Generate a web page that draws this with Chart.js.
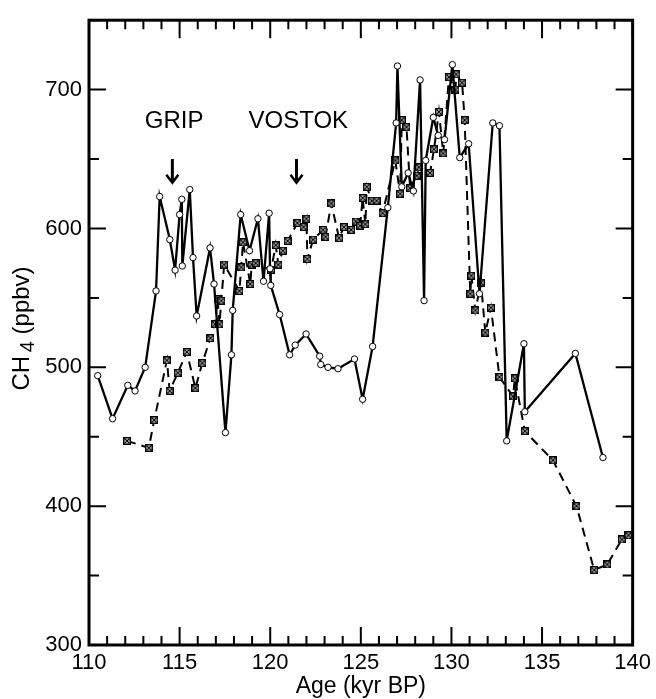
<!DOCTYPE html>
<html>
<head>
<meta charset="utf-8">
<script src="https://cdn.jsdelivr.net/npm/chart.js@4.4.1/dist/chart.umd.min.js"></script>
<style>
  body { margin: 0; background: #fff; }
  #wrap { width: 656px; height: 699px; position: relative; }
</style>
</head>
<body>
<div id="wrap"><canvas id="ch4Chart"></canvas></div>
<script>
// GRIP record (solid line, open circles)
var gripAge = [110.48, 111.3, 112.14, 112.54, 113.1, 113.7, 113.9, 114.46, 114.75, 115.0, 115.12, 115.15, 115.56, 115.74, 115.94, 116.68, 116.9, 117.53, 117.86, 117.93, 118.37, 118.86, 119.32, 119.63, 119.94, 119.99, 120.03, 120.52, 121.07, 121.38, 121.98, 122.73, 122.79, 123.19, 123.74, 124.65, 125.1, 125.65, 126.49, 126.95, 127.02, 127.26, 127.61, 127.9, 128.27, 128.49, 128.58, 129.0, 129.27, 129.62, 130.05, 130.46, 130.95, 131.55, 132.28, 132.65, 133.05, 134.0, 134.05, 136.84, 138.36];
var gripCH4 = [494, 463, 487, 483, 500, 555, 623, 592, 570, 610, 621, 573, 628, 579, 537, 586, 560, 453, 509, 541, 610, 584, 607, 562, 611, 571, 559, 538, 509, 516, 524, 508, 502, 500, 499, 506, 477, 515, 615, 676, 717, 630, 640, 627, 707, 548, 649, 680, 667, 664, 718, 651, 661, 553, 676, 674, 447, 517, 468, 510, 435];

// Vostok record (dashed line, boxed crosses)
var vostokAge = [112.1, 113.3, 113.6, 114.3, 114.45, 114.9, 115.4, 115.87, 116.25, 116.7, 116.95, 117.1, 117.2, 117.3, 117.46, 118.3, 118.4, 118.5, 118.9, 118.98, 119.2, 120.05, 120.3, 120.45, 120.7, 120.96, 121.5, 121.84, 122.0, 122.05, 122.37, 122.92, 123.05, 123.37, 123.8, 124.07, 124.47, 124.72, 124.96, 125.1, 125.25, 125.33, 125.6, 125.87, 126.2, 126.9, 127.17, 127.26, 127.52, 127.72, 128.08, 128.21, 128.82, 129.04, 129.31, 129.55, 129.86, 130.22, 130.27, 130.59, 130.73, 131.04, 131.1, 131.32, 131.63, 131.87, 132.18, 132.65, 133.4, 133.5, 134.05, 135.6, 136.9, 137.88, 138.6, 139.4, 139.77];
var vostokCH4 = [447, 442, 462, 505, 483, 496, 511, 485, 503, 521, 531, 549, 531, 548, 574, 555, 572, 590, 560, 574, 575, 570, 588, 574, 584, 591, 604, 601, 607, 578, 592, 599, 594, 618, 593, 601, 599, 605, 602, 622, 603, 630, 620, 620, 611, 649, 625, 678, 673, 629, 638, 644, 640, 657, 684, 654, 709, 700, 711, 705, 678, 553, 566, 541, 561, 525, 543, 493, 479, 492, 454, 433, 400, 354, 358, 376, 379];

var xTickLabels = [110, 115, 120, 125, 130, 135, 140];
var yTickLabels = [300, 400, 500, 600, 700];

var fontFam = "'Liberation Sans', Arial, Helvetica, sans-serif";

function toPoints(xs, ys) {
    var pts = [];
    for (var i = 0; i < xs.length; ++i) {
        pts.push({ x: xs[i], y: ys[i] });
    }
    return pts;
}

// small square with an x inside, like the Vostok symbols
function boxCross() {
    var c = document.createElement('canvas');
    c.width = 8; c.height = 8;
    var g = c.getContext('2d');
    g.fillStyle = '#fff';
    g.fillRect(0, 0, 8, 8);
    g.strokeStyle = '#000';
    g.lineWidth = 1.5;
    g.strokeRect(0.75, 0.75, 6.5, 6.5);
    g.lineWidth = 1.2;
    g.beginPath();
    g.moveTo(1.5, 1.5); g.lineTo(6.5, 6.5);
    g.moveTo(6.5, 1.5); g.lineTo(1.5, 6.5);
    g.stroke();
    return c;
}

// frame, inside ticks, labels and arrows
var framePlugin = {
    id: 'framePlugin',
    afterDraw: function(chart) {
        var ctx = chart.ctx;
        var a = chart.chartArea;
        var xs = chart.scales.x, ys = chart.scales.y;
        ctx.save();
        ctx.strokeStyle = '#000';
        ctx.lineWidth = 3;
        ctx.strokeRect(a.left, a.top, a.right - a.left, a.bottom - a.top);

        ctx.lineWidth = 2;
        ctx.beginPath();
        for (var v = 110; v <= 140; v++) {
            var px = xs.getPixelForValue(v);
            var len = (v % 5 == 0) ? 18 : 9;
            ctx.moveTo(px, a.bottom); ctx.lineTo(px, a.bottom - len);
            ctx.moveTo(px, a.top); ctx.lineTo(px, a.top + len);
        }
        for (var w = 300; w <= 750; w += 50) {
            var py = ys.getPixelForValue(w);
            var l2 = (w % 100 == 0) ? 17 : 10;
            ctx.moveTo(a.left, py); ctx.lineTo(a.left + l2, py);
            ctx.moveTo(a.right, py); ctx.lineTo(a.right - l2, py);
        }
        ctx.stroke();

        // record labels
        ctx.fillStyle = '#000';
        ctx.font = '24px ' + fontFam;
        ctx.textAlign = 'center';
        ctx.textBaseline = 'middle';
        var labY = ys.getPixelForValue(677);
        ctx.fillText('GRIP', xs.getPixelForValue(114.7), labY);
        ctx.fillText('VOSTOK', xs.getPixelForValue(121.55), labY);

        // arrows
        [114.6, 121.45].forEach(function(age) {
            var ax = xs.getPixelForValue(age);
            var y0 = ys.getPixelForValue(650), y1 = ys.getPixelForValue(633);
            ctx.lineWidth = 3;
            ctx.beginPath();
            ctx.moveTo(ax, y0); ctx.lineTo(ax, y1 - 2);
            ctx.stroke();
            ctx.lineWidth = 2.5;
            ctx.beginPath();
            ctx.moveTo(ax - 6, y1 - 8); ctx.lineTo(ax, y1); ctx.lineTo(ax + 6, y1 - 8);
            ctx.stroke();
        });

        // x axis title
        ctx.font = '23px ' + fontFam;
        ctx.fillText('Age (kyr BP)', (a.left + a.right) / 2, 687);

        // y axis title with subscript
        ctx.translate(22, 327);
        ctx.rotate(-Math.PI / 2);
        ctx.textAlign = 'left';
        ctx.textBaseline = 'middle';
        var t1 = 'CH ', t3 = ' (ppbv)';
        ctx.font = '24px ' + fontFam;
        var w1 = ctx.measureText(t1).width;
        ctx.font = '20px ' + fontFam;
        var w2 = ctx.measureText('4').width;
        ctx.font = '24px ' + fontFam;
        var w3 = ctx.measureText(t3).width;
        var start = -(w1 + w2 + w3) / 2;
        ctx.fillText(t1, start, 0);
        ctx.font = '20px ' + fontFam;
        ctx.fillText('4', start + w1 - 3, 6);
        ctx.font = '24px ' + fontFam;
        ctx.fillText(t3, start + w1 + w2 - 3, 0);
        ctx.restore();
    }
};

var ctx = document.getElementById('ch4Chart').getContext('2d');
var myChart = new Chart(ctx, {
    type: 'line',
    data: {
        datasets: [{
            label: 'GRIP',
            data: toPoints(gripAge, gripCH4),
            borderColor: '#000',
            borderWidth: 2.3,
            pointStyle: 'circle',
            pointRadius: 3.2,
            pointBorderWidth: 1,
            pointBackgroundColor: '#fff',
            pointBorderColor: '#000',
            tension: 0
        }, {
            label: 'Vostok',
            data: toPoints(vostokAge, vostokCH4),
            borderColor: '#000',
            borderWidth: 2,
            borderDash: [9, 6],
            pointStyle: boxCross(),
            pointRadius: 4,
            tension: 0
        }]
    },
    options: {
        responsive: true,
        maintainAspectRatio: false,
        animation: false,
        layout: { padding: { top: 10, right: 19, left: 0, bottom: 0 } },
        plugins: {
            legend: { display: false },
            tooltip: { enabled: false }
        },
        scales: {
            x: {
                type: 'linear',
                min: 110,
                max: 140,
                grid: { display: false, drawTicks: false },
                border: { display: false },
                ticks: { color: '#000', padding: 5, maxRotation: 0, font: { family: fontFam, size: 22 } },
                afterBuildTicks: function(scale) {
                    scale.ticks = xTickLabels.map(function(v) { return { value: v }; });
                },
                afterFit: function(scale) { scale.height = 54; }
            },
            y: {
                type: 'linear',
                min: 300,
                max: 750,
                grid: { display: false, drawTicks: false },
                border: { display: false },
                ticks: { color: '#000', padding: 7, font: { family: fontFam, size: 22 } },
                afterBuildTicks: function(scale) {
                    scale.ticks = yTickLabels.map(function(v) { return { value: v }; });
                },
                afterFit: function(scale) { scale.width = 89; }
            }
        }
    },
    plugins: [framePlugin]
});
</script>
</body>
</html>
